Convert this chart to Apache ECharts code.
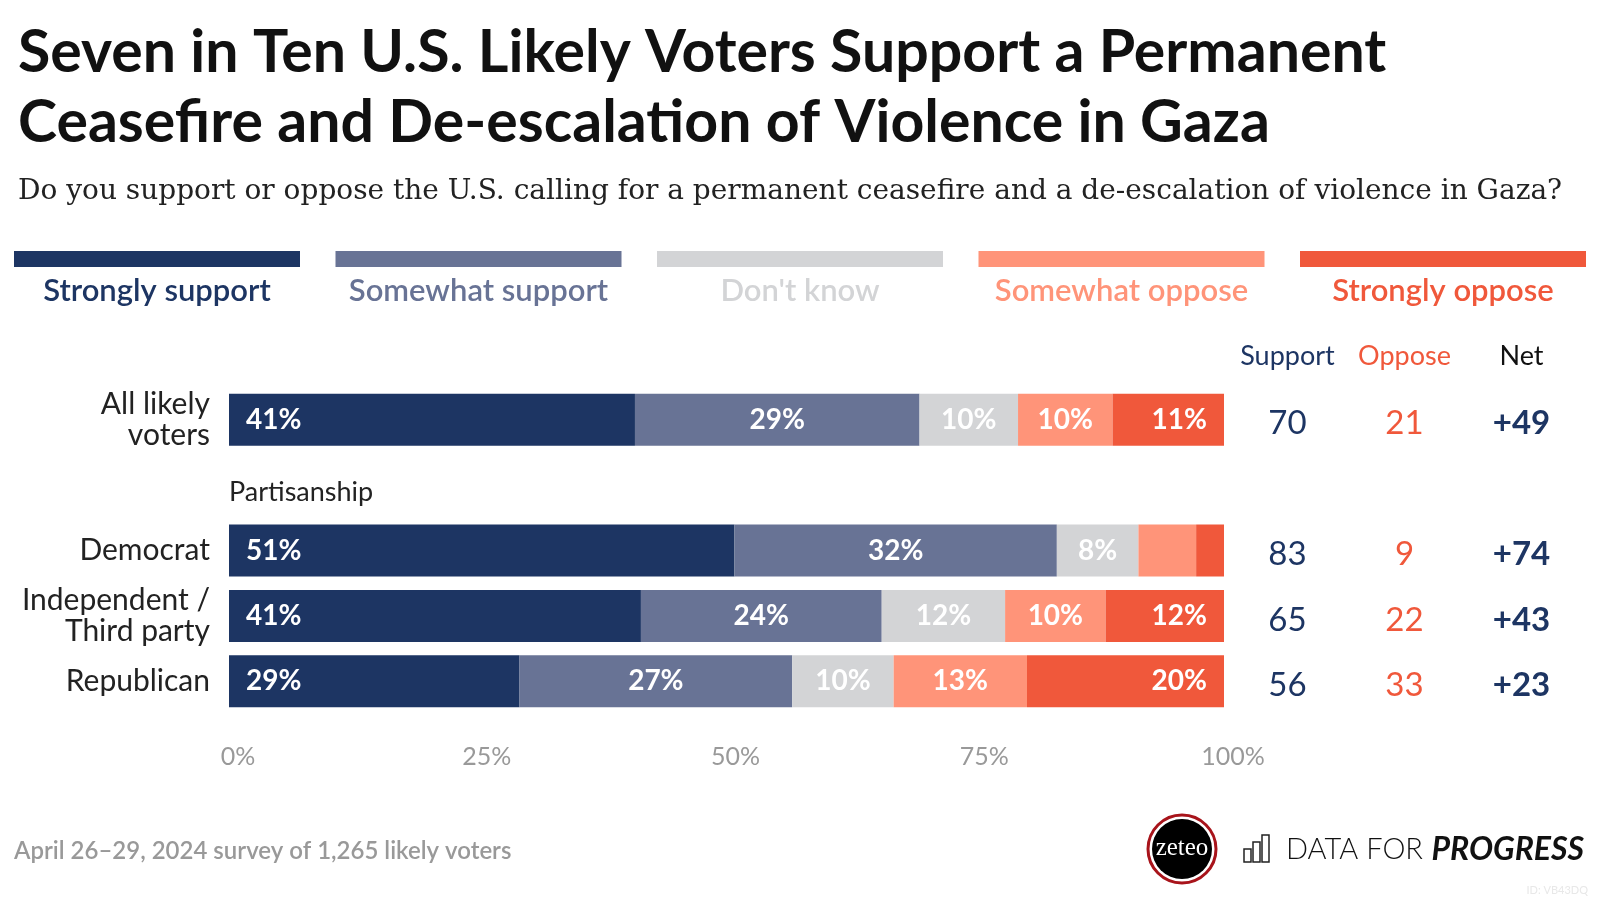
<!DOCTYPE html>
<html lang="en">
<head>
<meta charset="UTF-8">
<title>Ceasefire support</title>
<style>
    html,body{margin:0;padding:0;background:#fff;}
    #main{width:1600px;height:897px;}
</style>
<script type="text/javascript" src="https://cdn.jsdelivr.net/npm/echarts@6/dist/echarts.min.js"></script>
</head>
<body>
<div id="main"></div>
<script>
    // rows (blank row = "Partisanship" subheading)
    let groups=['All likely\nvoters','','Democrat','Independent /\nThird party','Republican'];
    let seriesNames=['Strongly support','Somewhat support',"Don't know",'Somewhat oppose','Strongly oppose'];
    let colors=['#1d3563','#687395','#d3d4d6','#ff9479','#f0583b'];

    // shares (%)
    let stronglySupport=[40.8,null,50.8,41.4,29.2];
    let somewhatSupport=[28.6,null,32.4,24.2,27.4];
    let dontKnow=[9.9,null,8.2,12.4,10.2];
    let somewhatOppose=[9.5,null,5.8,10.1,13.4];
    let stronglyOppose=[11.2,null,2.8,11.9,19.8];

    let supportTotal=[70,null,83,65,56];
    let opposeTotal=[21,null,9,22,33];
    let netTotal=['+49',null,'+74','+43','+23'];

    let xTicks=[0,25,50,75,100];
    let colHeads=['Support','Oppose','Net'];
    let headColors={Support:colors[0],Oppose:colors[4],Net:'#111'};

    let sans='Lato, "Noto Sans", sans-serif';
    let chart=echarts.init(document.getElementById('main'));

    let shares=[stronglySupport,somewhatSupport,dontKnow,somewhatOppose,stronglyOppose];
    let barSeries=shares.map((arr,i)=>{
        let pos='inside';
        if(i===0) pos='insideLeft';
        if(i===4) pos='insideRight';
        return{
            type:'bar',
            name:seriesNames[i],
            stack:'all',
            barWidth:52,
            data:arr,
            itemStyle:{color:colors[i]},
            label:{
                show:true,
                position:pos,
                distance:17,
                color:'#fff',
                fontFamily:sans,
                fontWeight:'bold',
                fontSize:28,
                formatter:p=>(p.value==null||p.value<7)?'':Math.round(p.value)+'%'
            },
            emphasis:{disabled:true}
        }
    });

    function colSeries(arr,col,color,weight){
        let pts=[];
        arr.forEach((v,i)=>{ if(v!=null) pts.push([col,groups[i],v]); });
        return{
            type:'scatter',
            xAxisIndex:1,
            yAxisIndex:1,
            symbolSize:2,
            itemStyle:{color:'#fff',opacity:1},
            data:pts,
            label:{
                show:true,
                position:'inside',
                offset:[0,4],
                color:color,
                opacity:1,
                fontFamily:sans,
                fontWeight:weight,
                fontSize:33,
                formatter:p=>p.value[2]
            },
            emphasis:{disabled:true}
        }
    }

    // legend swatches and labels
    let legendGraphics=[];
    seriesNames.forEach((n,i)=>{
        let x0=14+i*321.5;
        legendGraphics.push({type:'rect',shape:{x:x0,y:251,width:286,height:16},style:{fill:colors[i]}});
        legendGraphics.push({type:'text',x:x0+143,y:291,style:{text:n,fill:colors[i],font:'600 31px '+sans,textAlign:'center',textVerticalAlign:'middle'}});
    });

    let option={
        animation:false,
        title:[{
            text:'Seven in Ten U.S. Likely Voters Support a Permanent\nCeasefire and De-escalation of Violence in Gaza',
            left:13,
            top:13,
            textStyle:{fontFamily:sans,fontWeight:'bold',fontSize:59,lineHeight:70,color:'#111'}
        },{
            text:'Do you support or oppose the U.S. calling for a permanent ceasefire and a de-escalation of violence in Gaza?',
            left:13,
            top:173,
            textStyle:{fontFamily:'"DejaVu Serif", serif',fontWeight:'normal',fontSize:28,color:'#222'}
        }],
        grid:[
            {left:229,width:995,top:387,height:327},
            {left:1229,width:351,top:387,height:327}
        ],
        xAxis:[{
            type:'value',
            gridIndex:0,
            min:0,
            max:100,
            interval:25,
            splitLine:{show:false},
            axisLine:{show:false},
            axisTick:{show:false},
            axisLabel:{
                color:'#999',
                fontFamily:sans,
                fontSize:25,
                margin:30,
                padding:[0,0,0,18],
                formatter:v=>xTicks.indexOf(v)>=0?v+'%':''
            }
        },{
            type:'category',
            gridIndex:1,
            position:'top',
            data:colHeads,
            axisLine:{show:false},
            axisTick:{show:false},
            splitLine:{show:false},
            axisLabel:{
                interval:0,
                fontFamily:sans,
                fontSize:27,
                margin:17,
                color:v=>headColors[v]
            }
        }],
        yAxis:[{
            type:'category',
            gridIndex:0,
            inverse:true,
            data:groups,
            axisLine:{show:false},
            axisTick:{show:false},
            axisLabel:{color:'#222',fontFamily:sans,fontSize:30,lineHeight:31,margin:19,align:'right'}
        },{
            type:'category',
            gridIndex:1,
            inverse:true,
            data:groups,
            axisLine:{show:false},
            axisTick:{show:false},
            axisLabel:{show:false}
        }],
        series:barSeries.concat([
            colSeries(supportTotal,'Support',colors[0],'normal'),
            colSeries(opposeTotal,'Oppose',colors[4],'normal'),
            colSeries(netTotal,'Net',colors[0],'bold')
        ]),
        graphic:legendGraphics.concat([
            {type:'text',x:229,y:492,style:{text:'Partisanship',fill:'#222',font:'27px '+sans,textVerticalAlign:'middle'}},
            {type:'text',x:14,y:851,style:{text:'April 26–29, 2024 survey of 1,265 likely voters',fill:'#999',font:'600 24px '+sans,textVerticalAlign:'middle'}},
            // zeteo badge
            {type:'circle',shape:{cx:1182,cy:849,r:34},style:{fill:'#fff',stroke:'#a8141b',lineWidth:3}},
            {type:'circle',shape:{cx:1182,cy:849,r:30},style:{fill:'#000'}},
            {type:'text',x:1182,y:848,style:{text:'zeteo',fill:'#fff',font:'25px "Liberation Serif", serif',textAlign:'center',textVerticalAlign:'middle'}},
            // data for progress mark
            {type:'rect',shape:{x:1244,y:849,width:7,height:13},style:{fill:'none',stroke:'#222',lineWidth:1.5}},
            {type:'rect',shape:{x:1253,y:842,width:7,height:20},style:{fill:'none',stroke:'#222',lineWidth:1.5}},
            {type:'rect',shape:{x:1262,y:835,width:7,height:27},style:{fill:'none',stroke:'#222',lineWidth:1.5}},
            {type:'text',x:1286,y:850,style:{text:'DATA FOR',fill:'#111',font:'300 29px '+sans,textVerticalAlign:'middle'}},
            {type:'text',x:1584,y:850,style:{text:'PROGRESS',fill:'#111',font:'italic bold 32px '+sans,textAlign:'right',textVerticalAlign:'middle'}},
            {type:'text',x:1588,y:890,style:{text:'ID: VB43DQ',fill:'#e8e8e8',font:'11px '+sans,textAlign:'right',textVerticalAlign:'middle'}}
        ])
    };
    chart.setOption(option);
</script>
</body>
</html>
